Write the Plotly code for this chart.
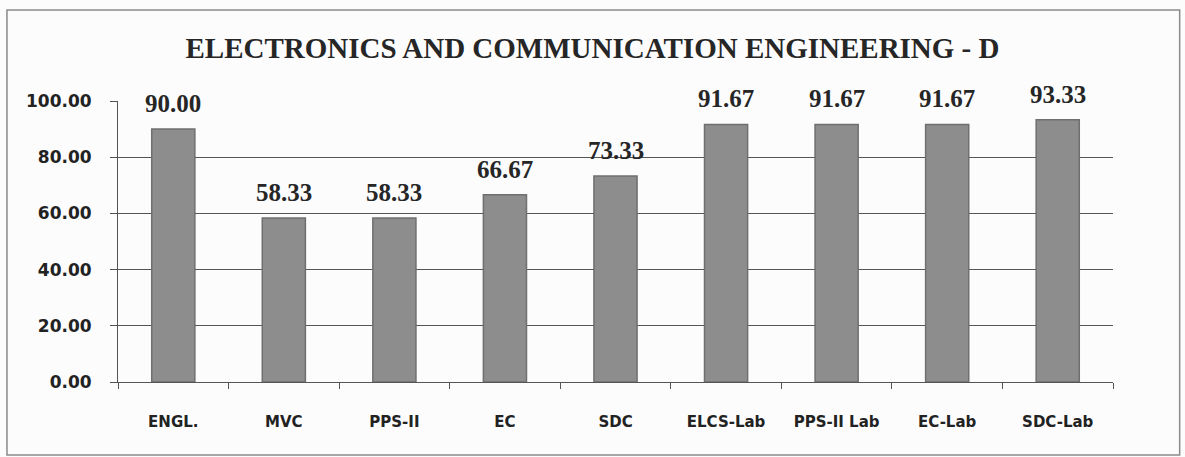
import plotly.graph_objects as go

subjects = ["ENGL.", "MVC", "PPS-II", "EC", "SDC", "ELCS-Lab", "PPS-II Lab", "EC-Lab", "SDC-Lab"]
pass_pct = [90.00, 58.33, 58.33, 66.67, 73.33, 91.67, 91.67, 91.67, 93.33]
y_ticks = [0, 20, 40, 60, 80, 100]

fig = go.Figure()
fig.add_trace(go.Bar(
    x=subjects, y=pass_pct,
    marker=dict(color="#8d8d8d", line=dict(color="#6f6f6f", width=1.5)),
    hoverinfo="x+y",
))

# value labels sit a bit higher than plotly's "outside" text
for s, v in zip(subjects, pass_pct):
    fig.add_annotation(x=s, y=v, text=f"{v:.2f}", showarrow=False,
                       yanchor="bottom", yshift=10,
                       font=dict(family="Liberation Serif", size=25, color="#262626",
                                 weight="bold"))

fig.update_layout(
    width=1185, height=457,
    margin=dict(l=118, r=72, t=101, b=75),
    paper_bgcolor="#fcfcfd", plot_bgcolor="#fcfcfd",
    bargap=0.61,
    showlegend=False,
    title=dict(text="ELECTRONICS AND COMMUNICATION ENGINEERING - D",
               x=0.5, xanchor="center", y=0.895, yanchor="middle",
               font=dict(family="Liberation Serif", size=29, color="#262626",
                         weight="bold")),
    shapes=[dict(type="rect", xref="paper", yref="paper",
                 x0=-0.1116, x1=1.067, y0=-0.26, y1=1.324,
                 line=dict(color="#8a8a8a", width=1.5))],
)
fig.update_yaxes(range=[0, 100], tickvals=y_ticks,
                 ticktext=[f"{t:.2f}" for t in y_ticks],
                 showgrid=True, gridcolor="#555555", gridwidth=1,
                 showline=True, linecolor="#555555", linewidth=1,
                 ticks="outside", ticklen=7, tickcolor="#555555",
                 zeroline=False, automargin=False, ticklabelstandoff=15,
                 tickfont=dict(family="DejaVu Sans", size=17, color="#222222",
                               weight="bold"))
fig.update_xaxes(showline=True, linecolor="#555555", linewidth=1,
                 ticks="outside", ticklen=6, tickcolor="#555555",
                 tickson="boundaries", ticklabelstandoff=26, automargin=False,
                 tickfont=dict(family="DejaVu Sans", size=15, color="#222222",
                               weight="bold"))

# drop the page's default body margin so the figure sits at 0,0
fig.write_html("out.html", config={"displayModeBar": False},
               post_script="document.body.style.margin='0';")
